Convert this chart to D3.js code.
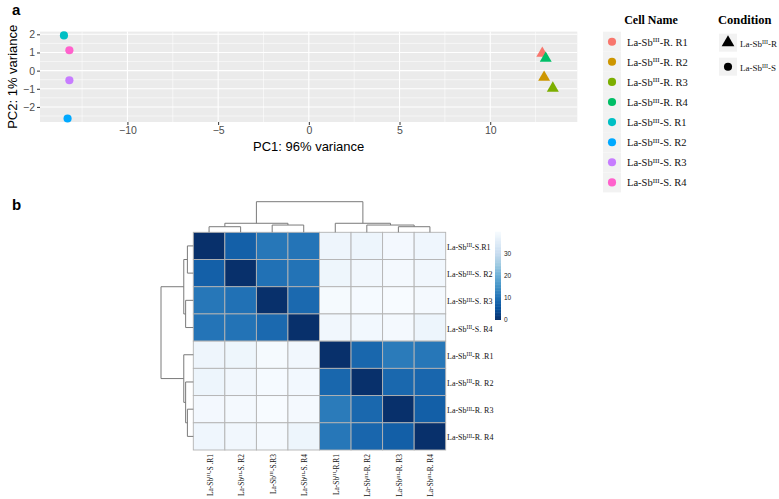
<!DOCTYPE html>
<html>
<head>
<meta charset="utf-8">
<script src="https://cdn.jsdelivr.net/npm/d3@7"></script>
<style>
  html, body { margin: 0; padding: 0; background: #fff; }
  svg { display: block; }
</style>
</head>
<body>
<svg id="chart" width="779" height="499"></svg>
<script>
// ---------------- DATA ----------------
// PCA panel
const sampleNames = ["La-Sb^III-R. R1", "La-Sb^III-R. R2", "La-Sb^III-R. R3", "La-Sb^III-R. R4",
                     "La-Sb^III-S. R1", "La-Sb^III-S. R2", "La-Sb^III-S. R3", "La-Sb^III-S. R4"];
const pc1Values = [12.87, 12.97, 13.45, 13.06, -13.5, -13.3, -13.2, -13.2];
const pc2Values = [0.95, -0.37, -0.97, 0.68, 1.94, -2.64, -0.53, 1.12];
const sampleCondition = ["R", "R", "R", "R", "S", "S", "S", "S"];
const conditionNames = ["La-Sb^III-R", "La-Sb^III-S"];
const pc1Ticks = [-10, -5, 0, 5, 10];
const pc2Ticks = [-2, -1, 0, 1, 2];

// Heatmap panel (sample distance matrix, order as displayed)
const heatRowLabels = ["La-Sb^III-S.R1", "La-Sb^III-S. R2", "La-Sb^III-S. R3", "La-Sb^III-S. R4",
                       "La-Sb^III-R .R1", "La-Sb^III-R. R2", "La-Sb^III-R. R3", "La-Sb^III-R. R4"];
const heatColLabels = ["La-Sb^III-S .R1", "La-Sb^III-S. R2", "La-Sb^III-S.R3", "La-Sb^III-S. R4",
                       "La-Sb^III-R.R1", "La-Sb^III-R. R2", "La-Sb^III-R. R3", "La-Sb^III-R. R4"];
const distS1 = [0, 7.3, 10.8, 10.4, 38.0, 37.8, 39.0, 38.3];
const distS2 = [7.3, 0, 10.0, 10.3, 38.1, 38.6, 39.2, 38.7];
const distS3 = [10.8, 10.0, 0, 8.7, 39.4, 39.5, 39.8, 39.2];
const distS4 = [10.4, 10.3, 8.7, 0, 38.7, 38.9, 39.3, 37.9];
const distR1 = [38.0, 38.1, 39.4, 38.7, 0, 8.4, 11.4, 10.8];
const distR2 = [37.8, 38.6, 39.5, 38.9, 8.4, 0, 8.5, 8.3];
const distR3 = [39.0, 39.2, 39.8, 39.3, 11.4, 8.5, 0, 7.2];
const distR4 = [38.3, 38.7, 39.2, 37.9, 10.8, 8.3, 7.2, 0];
const distMatrix = [distS1, distS2, distS3, distS4, distR1, distR2, distR3, distR4];
const colorLegendTicks = [0, 10, 20, 30];
const distMax = 39.8;

// Dendrogram (same topology for rows and columns), merge heights
const dendroTree = { h: 40, children: [
  { h: 11.8, children: [ { h: 7.3, children: [ {leaf: 0}, {leaf: 1} ] },
                         { h: 9.5, children: [ {leaf: 2}, {leaf: 3} ] } ] },
  { h: 11.8, children: [ {leaf: 4},
                         { h: 9.5, children: [ {leaf: 5}, { h: 7.3, children: [ {leaf: 6}, {leaf: 7} ] } ] } ] }
]};

// ---------------- STYLE ----------------
const sampleColors = ["#F8766D", "#CD9600", "#7CAE00", "#00BE67", "#00BFC4", "#00A9FF", "#C77CFF", "#FF61CC"];
const bluesRev = ["#08306b", "#08519c", "#2171b5", "#4292c6", "#6baed6", "#9ecae1", "#c6dbef", "#deebf7", "#f7fbff"];
const sansFont = "'Liberation Sans', Arial, Helvetica, sans-serif";
const serifFont = "'Liberation Serif', 'Times New Roman', serif";

const svg = d3.select("#chart");

// helper: write label with superscript "III"
function writeLabel(textSel, label, supSize, supShift) {
  const parts = label.split("^III");
  textSel.append("tspan").text(parts[0]);
  if (parts.length > 1) {
    textSel.append("tspan").attr("dy", -supShift).attr("font-size", supSize).text("III");
    textSel.append("tspan").attr("dy", supShift).text(parts[1]);
  }
}

// ---------------- PANEL A: PCA ----------------
const pLeft = 40, pRight = 577.3, pTop = 31.6, pBottom = 122;
const x = d3.scaleLinear().domain([-14.82, 14.8]).range([pLeft, pRight]);
const y = d3.scaleLinear().domain([-2.83, 2.15]).range([pBottom, pTop]);

svg.append("rect").attr("x", pLeft).attr("y", pTop)
  .attr("width", pRight - pLeft).attr("height", pBottom - pTop).attr("fill", "#ebebeb");

const minorX = [-12.5, -7.5, -2.5, 2.5, 7.5, 12.5];
const minorY = [-2.5, -1.5, -0.5, 0.5, 1.5];
const grid = svg.append("g");
minorX.forEach(v => grid.append("line").attr("x1", x(v)).attr("x2", x(v)).attr("y1", pTop).attr("y2", pBottom)
  .attr("stroke", "#fff").attr("stroke-width", 0.55));
minorY.forEach(v => grid.append("line").attr("x1", pLeft).attr("x2", pRight).attr("y1", y(v)).attr("y2", y(v))
  .attr("stroke", "#fff").attr("stroke-width", 0.55));
pc1Ticks.forEach(v => grid.append("line").attr("x1", x(v)).attr("x2", x(v)).attr("y1", pTop).attr("y2", pBottom)
  .attr("stroke", "#fff").attr("stroke-width", 1.1));
pc2Ticks.forEach(v => grid.append("line").attr("x1", pLeft).attr("x2", pRight).attr("y1", y(v)).attr("y2", y(v))
  .attr("stroke", "#fff").attr("stroke-width", 1.1));

const xAxis = d3.axisBottom(x).tickValues(pc1Ticks).tickSize(3).tickPadding(2)
  .tickFormat(d => d < 0 ? "\u2212" + Math.abs(d) : d);
const gx = svg.append("g").attr("transform", `translate(0,${pBottom})`).call(xAxis);
gx.select(".domain").remove();
gx.selectAll("line").attr("stroke", "#333").attr("stroke-width", 1);
gx.selectAll("text").attr("fill", "#4d4d4d").attr("font-size", 10.5).attr("font-family", sansFont);

const yAxis = d3.axisLeft(y).tickValues(pc2Ticks).tickSize(3).tickPadding(2)
  .tickFormat(d => d < 0 ? "\u2212" + Math.abs(d) : d);
const gy = svg.append("g").attr("transform", `translate(${pLeft},0)`).call(yAxis);
gy.select(".domain").remove();
gy.selectAll("line").attr("stroke", "#333").attr("stroke-width", 1);
gy.selectAll("text").attr("fill", "#4d4d4d").attr("font-size", 10.5).attr("font-family", sansFont);

svg.append("text").attr("x", (pLeft + pRight) / 2).attr("y", 151).attr("text-anchor", "middle")
  .attr("font-family", sansFont).attr("font-size", 13).attr("fill", "#000").text("PC1: 96% variance");
svg.append("text").attr("transform", `translate(17,${(pTop + pBottom) / 2}) rotate(-90)`).attr("text-anchor", "middle")
  .attr("font-family", sansFont).attr("font-size", 13).attr("fill", "#000").text("PC2: 1% variance");

const triSym = d3.symbol().type(d3.symbolTriangle).size(62);
const circSym = d3.symbol().type(d3.symbolCircle).size(52);
const pts = svg.append("g");
sampleNames.forEach((n, i) => {
  pts.append("path")
    .attr("d", sampleCondition[i] === "R" ? triSym() : circSym())
    .attr("transform", `translate(${x(pc1Values[i])},${y(pc2Values[i])})`)
    .attr("fill", sampleColors[i]);
});

// panel labels
svg.append("text").attr("x", 12).attr("y", 15).attr("font-family", sansFont).attr("font-weight", "bold")
  .attr("font-size", 15).text("a");
svg.append("text").attr("x", 12).attr("y", 210).attr("font-family", sansFont).attr("font-weight", "bold")
  .attr("font-size", 15).text("b");

// Legend: Cell Name
const lg = svg.append("g");
lg.append("text").attr("x", 651).attr("y", 24).attr("text-anchor", "middle").attr("font-family", serifFont)
  .attr("font-weight", "bold").attr("font-size", 12).text("Cell Name");
sampleNames.forEach((n, i) => {
  const cy = 41.7 + i * 20.1;
  lg.append("rect").attr("x", 603).attr("y", cy - 10).attr("width", 18).attr("height", 20).attr("fill", "#f2f2f2");
  lg.append("path").attr("d", circSym()).attr("transform", `translate(612,${cy})`).attr("fill", sampleColors[i]);
  const t = lg.append("text").attr("x", 627).attr("y", cy + 4).attr("font-family", serifFont)
    .attr("font-size", 10.5).attr("fill", "#111");
  writeLabel(t, n, 7, 3.5);
});

// Legend: Condition
lg.append("text").attr("x", 718).attr("y", 24).attr("font-family", serifFont)
  .attr("font-weight", "bold").attr("font-size", 12.5).text("Condition");
conditionNames.forEach((n, i) => {
  const cy = 42.7 + i * 24;
  lg.append("rect").attr("x", 719).attr("y", cy - 9).attr("width", 18).attr("height", 18).attr("fill", "#f2f2f2");
  lg.append("path").attr("d", i === 0 ? d3.symbol().type(d3.symbolTriangle).size(70)() : circSym())
    .attr("transform", `translate(728,${cy})`).attr("fill", "#000");
  const t = lg.append("text").attr("x", 740).attr("y", cy + 4).attr("font-family", serifFont)
    .attr("font-size", 9).attr("fill", "#111");
  writeLabel(t, n, 6, 3);
});

// ---------------- PANEL B: HEATMAP ----------------
const hLeft = 193.3, hRight = 445.7, hTop = 232.3, hBottom = 450;
const idx = d3.range(heatRowLabels.length);
const xb = d3.scaleBand().domain(idx).range([hLeft, hRight]);
const yb = d3.scaleBand().domain(idx).range([hTop, hBottom]);
const colorStops = bluesRev.map((c, i) => i * distMax / (bluesRev.length - 1));
const color = d3.scaleLinear().domain(colorStops).range(bluesRev).interpolate(d3.interpolateRgb).clamp(true);

const hm = svg.append("g");
distMatrix.forEach((row, r) => {
  row.forEach((v, c) => {
    hm.append("rect").attr("x", xb(c)).attr("y", yb(r))
      .attr("width", xb.bandwidth()).attr("height", yb.bandwidth())
      .attr("fill", color(v)).attr("stroke", "#b3b3b3").attr("stroke-width", 0.9);
  });
});

// row labels
heatRowLabels.forEach((n, r) => {
  const t = svg.append("text").attr("x", 447).attr("y", yb(r) + yb.bandwidth() / 2 + 4)
    .attr("font-family", serifFont).attr("font-size", 8).attr("fill", "#111");
  writeLabel(t, n, 5.5, 2.5);
});
// column labels
heatColLabels.forEach((n, c) => {
  const t = svg.append("text")
    .attr("transform", `translate(${xb(c) + xb.bandwidth() / 2 + 3.5},454) rotate(-90)`)
    .attr("text-anchor", "end")
    .attr("font-family", serifFont).attr("font-size", 7.4).attr("fill", "#111");
  writeLabel(t, n, 5, 2.3);
});

// dendrograms
function layoutTree(node, posOf) {
  if (node.leaf !== undefined) { node.pos = posOf(node.leaf); node.h = 0; return node; }
  node.children.forEach(ch => layoutTree(ch, posOf));
  node.pos = d3.mean(node.children, ch => ch.pos);
  return node;
}
function drawTree(g, node, segFn) {
  if (node.leaf !== undefined) return;
  const [a, b] = node.children;
  segFn(g, a.pos, node.h, b.pos, node.h);
  segFn(g, a.pos, a.h, a.pos, node.h);
  segFn(g, b.pos, b.h, b.pos, node.h);
  node.children.forEach(ch => drawTree(g, ch, segFn));
}
const colTree = layoutTree(structuredClone(dendroTree), i => xb(i) + xb.bandwidth() / 2);
const colH = d3.scaleLinear().domain([0, 40]).range([hTop, 201.7]);
const cg = svg.append("g").attr("stroke", "#7a7a7a").attr("stroke-width", 1).attr("fill", "none");
drawTree(cg, colTree, (g, p1, h1, p2, h2) =>
  g.append("line").attr("x1", p1).attr("x2", p2).attr("y1", colH(h1)).attr("y2", colH(h2)));

const rowTree = layoutTree(structuredClone(dendroTree), i => yb(i) + yb.bandwidth() / 2);
const rowH = d3.scaleLinear().domain([0, 40]).range([hLeft, 161]);
const rg = svg.append("g").attr("stroke", "#7a7a7a").attr("stroke-width", 1).attr("fill", "none");
drawTree(rg, rowTree, (g, p1, h1, p2, h2) =>
  g.append("line").attr("y1", p1).attr("y2", p2).attr("x1", rowH(h1)).attr("x2", rowH(h2)));

// colour legend
const legY = d3.scaleLinear().domain([0, distMax]).range([319.5, 231.7]);
const legG = svg.append("g");
const nSteps = 60;
d3.range(nSteps).forEach(i => {
  const v0 = i * distMax / nSteps, v1 = (i + 1) * distMax / nSteps;
  legG.append("rect").attr("x", 495).attr("width", 6)
    .attr("y", legY(v1)).attr("height", legY(v0) - legY(v1) + 0.5)
    .attr("fill", color((v0 + v1) / 2));
});
colorLegendTicks.forEach(v => {
  legG.append("text").attr("x", 504).attr("y", legY(v) + 2.5)
    .attr("font-family", sansFont).attr("font-size", 6.5).attr("fill", "#222").text(v);
});
</script>
</body>
</html>
